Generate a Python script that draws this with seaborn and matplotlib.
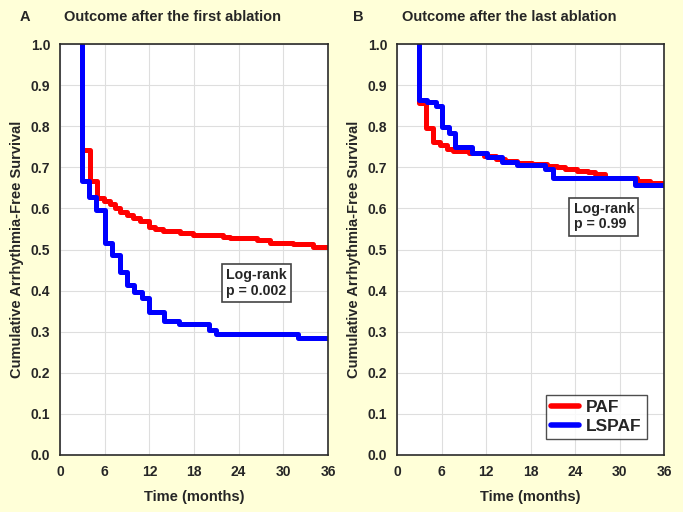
import matplotlib.pyplot as plt
import numpy as np
import pandas as pd
import seaborn as sns

# Kaplan-Meier step curves (months, survival)
A_PAF_T = [3, 3, 4.0, 5.0, 5.9, 6.7, 7.4, 8.0, 9.0, 9.8, 10.7, 11.9, 12.8, 13.9,
           16.1, 17.9, 21.9, 22.8, 26.4, 28.2, 31.3, 34.0, 36]
A_PAF_S = [1.0, 0.742, 0.667, 0.625, 0.618, 0.610, 0.600, 0.591, 0.585, 0.576,
           0.570, 0.555, 0.550, 0.545, 0.539, 0.535, 0.531, 0.527, 0.523, 0.516,
           0.513, 0.506, 0.506]
A_LSPAF_T = [3, 3, 3.9, 4.9, 6.0, 7.0, 8.0, 9.0, 9.9, 11.0, 12.0, 14.0, 16.0,
             20.0, 21.0, 32.0, 36]
A_LSPAF_S = [1.0, 0.667, 0.627, 0.596, 0.517, 0.487, 0.445, 0.414, 0.397, 0.381,
             0.349, 0.327, 0.318, 0.303, 0.294, 0.285, 0.285]

B_PAF_T = [3, 3, 3.85, 4.85, 5.8, 6.7, 7.6, 9.7, 11.7, 13.3, 14.5, 16.2, 18.2,
           20.2, 21.6, 22.7, 24.3, 25.8, 26.7, 28.1, 32.3, 34.1, 36]
B_PAF_S = [1.0, 0.856, 0.795, 0.762, 0.754, 0.744, 0.740, 0.734, 0.727, 0.720,
           0.716, 0.710, 0.707, 0.703, 0.700, 0.697, 0.692, 0.688, 0.684, 0.673,
           0.667, 0.661, 0.661]
B_LSPAF_T = [3, 3, 4.0, 5.2, 6.06, 6.96, 7.86, 10.1, 12.1, 14.15, 16.2, 20.0,
             21.0, 32.1, 36]
B_LSPAF_S = [1.0, 0.864, 0.858, 0.850, 0.799, 0.784, 0.750, 0.736, 0.724, 0.714,
             0.706, 0.695, 0.673, 0.657, 0.657]

GROUPS = ["PAF", "LSPAF"]
COLORS = {"PAF": "#FF0000", "LSPAF": "#0000FF"}
X_TICKS = [0, 6, 12, 18, 24, 30, 36]
Y_TICKS = [0.0, 0.1, 0.2, 0.3, 0.4, 0.5, 0.6, 0.7, 0.8, 0.9, 1.0]
PANELS = ["A", "B"]
TITLES = ["Outcome after the first ablation", "Outcome after the last ablation"]
LOGRANK = ["Log-rank\np = 0.002", "Log-rank\np = 0.99"]

BG = "#FFFFD8"


def _frame(panel, group, t, s):
    return pd.DataFrame({"panel": panel, "group": group, "time": t, "surv": s})


df = pd.concat([
    _frame("A", "PAF", A_PAF_T, A_PAF_S),
    _frame("A", "LSPAF", A_LSPAF_T, A_LSPAF_S),
    _frame("B", "PAF", B_PAF_T, B_PAF_S),
    _frame("B", "LSPAF", B_LSPAF_T, B_LSPAF_S),
], ignore_index=True)

sns.set_style("whitegrid")
plt.rcParams["font.family"] = ["Liberation Sans", "DejaVu Sans"]
plt.rcParams["font.weight"] = "bold"

fig = plt.figure(figsize=(6.83, 5.12), dpi=100, facecolor=BG)
axes = [
    fig.add_axes([60 / 683, 57 / 512, 268 / 683, 411 / 512]),
    fig.add_axes([397 / 683, 57 / 512, 267 / 683, 411 / 512]),
]

box_pos = [(22.3, 0.418), (23.8, 0.58)]

for i, ax in enumerate(axes):
    sub = df[df["panel"] == PANELS[i]]
    sns.lineplot(
        data=sub, x="time", y="surv", hue="group", hue_order=GROUPS,
        palette=COLORS, estimator=None, sort=False, drawstyle="steps-post",
        linewidth=3.6, ax=ax, legend=(i == 1),
    )
    ax.set_facecolor("white")
    ax.set_xlim(0, 36)
    ax.set_ylim(0, 1.0)
    ax.set_xticks(X_TICKS)
    ax.set_yticks(Y_TICKS)
    ax.set_xticklabels([str(v) for v in X_TICKS], fontsize=10, fontweight="bold")
    ax.set_yticklabels([f"{v:.1f}" for v in Y_TICKS], fontsize=10, fontweight="bold")
    ax.grid(True, color="#DEDEDE", linewidth=0.8)
    ax.tick_params(direction="out", length=3, width=1, color="#333333", pad=4)
    for sp in ax.spines.values():
        sp.set_color("#2A2A2A")
        sp.set_linewidth(1.2)
        sp.set_visible(True)
    ax.set_xlabel("Time (months)", fontsize=10.5, fontweight="bold", labelpad=8)
    ax.set_ylabel("Cumulative Arrhythmia-Free Survival", fontsize=10.5,
                  fontweight="bold", labelpad=5)
    ax.text(box_pos[i][0], box_pos[i][1], LOGRANK[i], fontsize=10.2, fontweight="bold",
            ha="left", va="center", linespacing=1.15,
            bbox=dict(boxstyle="square,pad=0.3", facecolor="white",
                      edgecolor="#444444", linewidth=1.2))

fig.text(20 / 683, 1 - 17 / 512, "A", fontsize=10.5, fontweight="bold", va="center")
fig.text(172 / 683, 1 - 17 / 512, TITLES[0], fontsize=10.5, fontweight="bold",
         ha="center", va="center")
fig.text(353 / 683, 1 - 17 / 512, "B", fontsize=10.5, fontweight="bold", va="center")
fig.text(509 / 683, 1 - 17 / 512, TITLES[1], fontsize=10.5, fontweight="bold",
         ha="center", va="center")

leg = axes[1].legend(loc="lower right", frameon=True, fancybox=False,
                     prop={"size": 12.5, "weight": "bold"}, handlelength=1.6,
                     borderpad=0.3, labelspacing=0.2, handletextpad=0.4,
                     borderaxespad=0, bbox_to_anchor=(0.936, 0.039))
leg.get_frame().set_edgecolor("#222222")
leg.get_frame().set_linewidth(1.0)
for line in leg.get_lines():
    line.set_linewidth(4)

fig.savefig("out.png", dpi=100, facecolor=BG)
